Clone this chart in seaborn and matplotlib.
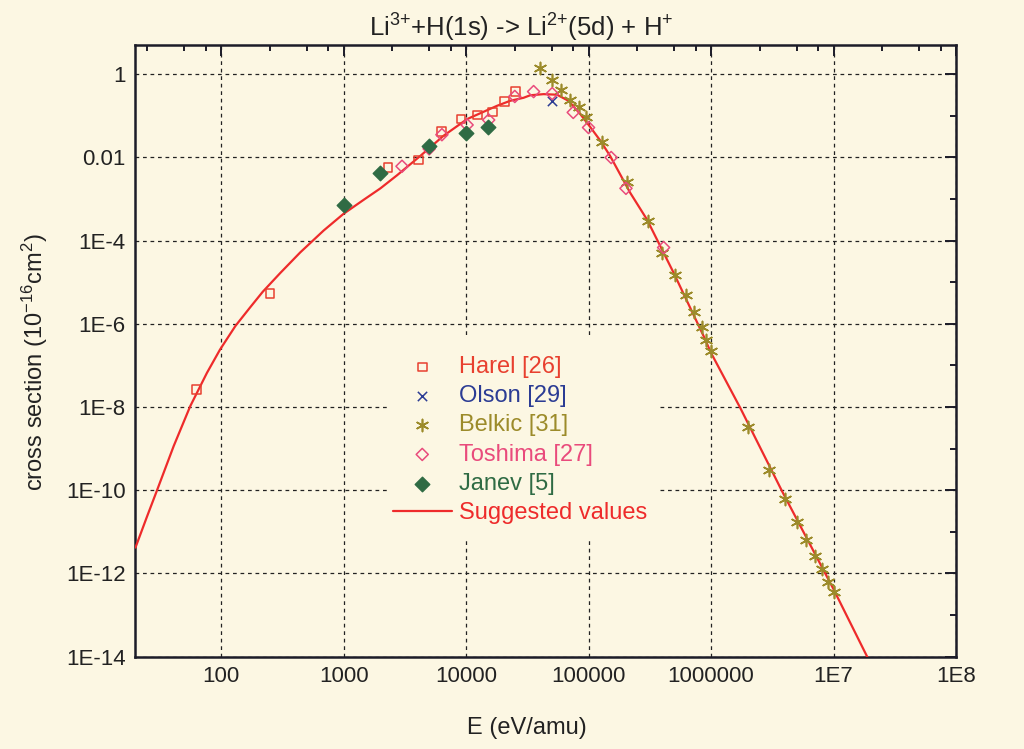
import numpy as np
import pandas as pd
import matplotlib
matplotlib.use("Agg")
import matplotlib.pyplot as plt
from matplotlib.ticker import NullFormatter
from matplotlib.patches import Rectangle
import seaborn as sns

# ---------------- data ----------------
harel_E = [63, 250, 2300, 4100, 6300, 9100, 12400, 16400, 20500, 25200]
harel_s = [2.6e-8, 5.4e-6, 5.7e-3, 8.7e-3, 0.042, 0.083, 0.104, 0.122, 0.218, 0.378]

olson_E = [50000]
olson_s = [0.22]

belkic_E = [40400, 50500, 60000, 71000, 83000, 95000, 128000, 205000, 305000,
            397000, 511000, 624000, 720000, 843000, 914000, 1.0e6, 2.0e6,
            3.0e6, 4.0e6, 5.0e6, 6.0e6, 7.0e6, 8.0e6, 9.0e6, 1.0e7]
belkic_s = [1.38, 0.71, 0.41, 0.245, 0.16, 0.091, 0.023, 2.6e-3, 2.9e-4,
            5.1e-5, 1.46e-5, 4.8e-6, 1.9e-6, 8.5e-7, 4.1e-7, 2.2e-7, 3.3e-9,
            3.0e-10, 6.0e-11, 1.7e-11, 6.3e-12, 2.6e-12, 1.3e-12, 6.1e-13, 3.6e-13]

toshima_E = [3000, 5000, 6350, 10200, 15300, 25000, 35600, 50500, 75000,
             100000, 153000, 202000, 410000]
toshima_s = [6.1e-3, 0.016, 0.035, 0.060, 0.079, 0.29, 0.38, 0.34, 0.12,
             0.052, 9.9e-3, 1.8e-3, 6.8e-5]

janev_E = [1000, 2000, 5000, 10000, 15000]
janev_s = [7.2e-4, 4.3e-3, 0.019, 0.038, 0.053]

sugg_E = [20, 24.8, 30, 41, 56, 76.6, 98, 131, 173, 219, 304, 443, 687,
          1000, 1456, 2000, 2730, 4230, 6550, 10200, 17900, 22900, 29500,
          33400, 43000, 55200, 68700, 85700, 103000, 125000, 150000, 219000,
          300000, 494000, 869000, 1.0e6, 1.73e6, 3.8e6, 1.0e7, 2.0e7]
sugg_s = [4.2e-12, 2.3e-11, 1.0e-10, 1.15e-9, 1.05e-8, 6.6e-8, 2.4e-7, 8.9e-7,
          2.5e-6, 5.9e-6, 1.66e-5, 5.2e-5, 1.74e-4, 4.4e-4, 9.5e-4, 1.8e-3,
          3.7e-3, 0.0108, 0.033, 0.083, 0.173, 0.228, 0.27, 0.31, 0.33, 0.32,
          0.228, 0.109, 0.054, 0.025, 0.0108, 1.4e-3, 3.2e-4, 1.7e-5, 5.1e-7,
          2.0e-7, 9.6e-9, 9.5e-11, 4.2e-13, 7.0e-15]

x_major = [1e2, 1e3, 1e4, 1e5, 1e6, 1e7, 1e8]
x_major_labels = ["100", "1000", "10000", "100000", "1000000", "1E7", "1E8"]
y_major = [1e-14, 1e-12, 1e-10, 1e-8, 1e-6, 1e-4, 1e-2, 1]
y_major_labels = ["1E-14", "1E-12", "1E-10", "1E-8", "1E-6", "1E-4", "0.01", "1"]

# ---------------- style ----------------
sns.set_style("white")
plt.rcParams["font.family"] = ["Liberation Sans", "DejaVu Sans"]
plt.rcParams["mathtext.fontset"] = "custom"
plt.rcParams["mathtext.rm"] = "Liberation Sans"
plt.rcParams["mathtext.it"] = "Liberation Sans:italic"
plt.rcParams["mathtext.default"] = "regular"

BG = "#fcf7e3"
C_HAREL = "#e8402f"
C_OLSON = "#2b3c94"
C_BELKIC = "#9c8b2a"
C_TOSH = "#e94b7c"
C_JANEV = "#2f6b44"
C_SUGG = "#ee2b2b"
AXC = "#1c1c28"
TXT = "#222222"

fig = plt.figure(figsize=(10.24, 7.49), dpi=100, facecolor=BG)
ax = fig.add_axes([0.1323, 0.1232, 0.9336 - 0.1323, 0.9399 - 0.1232])
ax.set_facecolor(BG)

ax.set_xscale("log")
ax.set_yscale("log")

sns.lineplot(x=sugg_E, y=sugg_s, ax=ax, color=C_SUGG, lw=1.6, sort=False,
             estimator=None, label="Suggested values", zorder=3)
sns.scatterplot(x=harel_E, y=harel_s, ax=ax, marker="s", s=38,
                facecolors="none", edgecolor=C_HAREL, linewidth=1.1,
                color=C_HAREL, label="Harel [26]", zorder=4)
sns.scatterplot(x=olson_E, y=olson_s, ax=ax, marker="x", s=45,
                edgecolor=C_OLSON, color=C_OLSON, linewidth=1.1,
                label="Olson [29]", zorder=4)
sns.scatterplot(x=belkic_E, y=belkic_s, ax=ax, marker=(6, 2, 0), s=75,
                edgecolor=C_BELKIC, color=C_BELKIC, linewidth=1.2,
                label="Belkic [31]", zorder=4)
sns.scatterplot(x=toshima_E, y=toshima_s, ax=ax, marker="D", s=38,
                facecolors="none", edgecolor=C_TOSH, linewidth=1.1,
                color=C_TOSH, label="Toshima [27]", zorder=4)
sns.scatterplot(x=janev_E, y=janev_s, ax=ax, marker="D", s=55,
                facecolors=C_JANEV, edgecolor=C_JANEV, linewidth=1.0,
                color=C_JANEV, label="Janev [5]", zorder=5)

ax.set_xlim(20, 1e8)
ax.set_ylim(1e-14, 5)

ax.set_xticks(x_major, labels=x_major_labels)
x_minor = [m * d for d in [10, 100, 1e3, 1e4, 1e5, 1e6, 1e7] for m in (2.5, 5, 7.5)]
x_minor = [v for v in x_minor if 20 < v < 1e8]
ax.set_xticks(x_minor, minor=True)
ax.xaxis.set_minor_formatter(NullFormatter())
ax.set_yticks(y_major, labels=y_major_labels)
ax.set_yticks([1e-13, 1e-11, 1e-9, 1e-7, 1e-5, 1e-3, 1e-1], minor=True)
ax.yaxis.set_minor_formatter(NullFormatter())

ax.tick_params(which="both", direction="in", top=True, right=True,
               color=AXC, width=1.4, labelsize=16, labelcolor=TXT)
ax.tick_params(which="major", length=8, pad=7)
ax.tick_params(which="minor", length=4.5)
for sp in ax.spines.values():
    sp.set_color(AXC)
    sp.set_linewidth(1.8)

ax.grid(True, which="major", color=TXT, linestyle=(0, (3, 3)), linewidth=0.9)
ax.set_axisbelow(True)
ax.set_xlabel("")
ax.set_ylabel("")

# opaque area behind the legend (hides the grid there, like the reference)
ax.add_patch(Rectangle((0.3077, 0.191), 0.331, 0.335, transform=ax.transAxes,
                       facecolor=BG, edgecolor="none", zorder=1))

# legend
handles, labels = ax.get_legend_handles_labels()
order = ["Harel [26]", "Olson [29]", "Belkic [31]", "Toshima [27]", "Janev [5]", "Suggested values"]
hmap = dict(zip(labels, handles))
leg = ax.legend([hmap[l] for l in order], order, loc="upper left",
                bbox_to_anchor=(0.302, 0.507), frameon=False, fontsize=17,
                handlelength=2.5, handletextpad=0.3, labelspacing=0.305,
                borderaxespad=0)
for t, c in zip(leg.get_texts(), [C_HAREL, C_OLSON, C_BELKIC, C_TOSH, C_JANEV, C_SUGG]):
    t.set_color(c)

# titles / labels
fig.text(0.509, 1 - 37 / 749, "Li$^{3{+}}$+H(1s) -> Li$^{2{+}}$(5d) + H$^{{+}}$",
         ha="center", va="baseline", fontsize=18.5, color=TXT)
fig.text(0.515, 1 - 728 / 749, "E (eV/amu)", ha="center", va="center",
         fontsize=17, color=TXT)
fig.text(0.034, 1 - 362 / 749, "cross section (10$^{-16}$cm$^{2}$)", ha="center",
         va="center", rotation=90, fontsize=17, color=TXT)

fig.savefig("out.png", dpi=100, facecolor=BG)
